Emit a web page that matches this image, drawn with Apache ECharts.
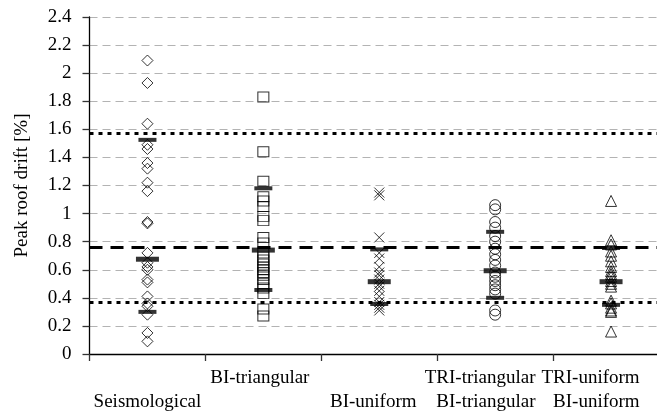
<!DOCTYPE html>
<html>
<head>
<meta charset="utf-8">
<script src="https://cdn.jsdelivr.net/npm/echarts@6/dist/echarts.min.js"></script>
<style>
html,body{margin:0;padding:0;background:#fff;}
#chart{width:657px;height:412px;}
</style>
</head>
<body>
<div id="chart"></div>
<script>
// ---- data ----
var categories = ['Seismological', 'BI-triangular', 'BI-uniform', 'TRI-triangular BI-triangular', 'TRI-uniform BI-uniform'];
var yTicks = [0, 0.2, 0.4, 0.6, 0.8, 1, 1.2, 1.4, 1.6, 1.8, 2, 2.2, 2.4];

var seismological = [2.09, 1.93, 1.64, 1.49, 1.46, 1.36, 1.32, 1.22, 1.16, 0.94, 0.93, 0.72, 0.65, 0.62, 0.60, 0.53, 0.51, 0.41, 0.36, 0.34, 0.28, 0.15, 0.09];
var biTriangular = [1.83, 1.44, 1.23, 1.12, 1.09, 1.05, 0.98, 0.95, 0.83, 0.79, 0.72, 0.69, 0.67, 0.64, 0.62, 0.60, 0.58, 0.56, 0.53, 0.50, 0.47, 0.43, 0.32, 0.27];
var biUniform = [1.15, 1.13, 0.83, 0.72, 0.68, 0.62, 0.58, 0.56, 0.53, 0.50, 0.48, 0.45, 0.41, 0.37, 0.35, 0.33, 0.31];
var triTriangular = [1.06, 1.03, 0.94, 0.90, 0.84, 0.80, 0.75, 0.71, 0.67, 0.63, 0.58, 0.55, 0.52, 0.49, 0.46, 0.43, 0.31, 0.28];
var triUniform = [1.09, 0.81, 0.78, 0.73, 0.70, 0.66, 0.62, 0.59, 0.57, 0.55, 0.52, 0.50, 0.48, 0.38, 0.36, 0.33, 0.31, 0.30, 0.16];

var groupP84 = [1.525, 1.18, 0.745, 0.87, 0.755];
var groupP50 = [0.675, 0.74, 0.515, 0.593, 0.515];
var groupP16 = [0.30, 0.456, 0.356, 0.40, 0.35];

var overallP84 = 1.57;
var overallMedian = 0.76;
var overallP16 = 0.37;

// ---- helpers ----
function pts(idx, arr) { return arr.map(function (v) { return [idx, v]; }); }
var outline = { color: 'rgba(0,0,0,0)', borderColor: '#000', borderWidth: 1 };
var FONT = 'Liberation Serif';

var labelLines = [
  '\n{c|Seismological}',
  '{c2|BI-triangular}\n',
  '\n{c3|BI-uniform}',
  '{r4|TRI-triangular}\n{r4|BI-triangular}',
  '{r5|TRI-uniform}\n{r5|BI-uniform}'
];

var chart = echarts.init(document.getElementById('chart'), null, { renderer: 'canvas' });
var option = {
  animation: false,
  backgroundColor: '#fff',
  grid: { left: 89.5, right: -12, top: 17, bottom: 58, containLabel: false, outerBoundsMode: 'none' },
  xAxis: {
    type: 'category',
    data: categories,
    boundaryGap: true,
    axisLine: { lineStyle: { color: '#000', width: 1.3 } },
    axisTick: { show: true, alignWithLabel: false, length: 7, lineStyle: { color: '#333', width: 1.3 } },
    splitLine: { show: false },
    axisLabel: {
      interval: 0,
      margin: 12,
      color: '#000',
      fontFamily: FONT,
      fontSize: 19,
      lineHeight: 24,
      hideOverlap: false,
      formatter: function (v, i) { return labelLines[i]; },
      rich: {
        c: { fontFamily: FONT, fontSize: 19, lineHeight: 24, color: '#000' },
        c2: { fontFamily: FONT, fontSize: 19, lineHeight: 24, color: '#000', padding: [0, 7, 0, 0] },
        c3: { fontFamily: FONT, fontSize: 19, lineHeight: 24, color: '#000', padding: [0, 12, 0, 0] },
        r4: { fontFamily: FONT, fontSize: 19, lineHeight: 24, color: '#000', align: 'right', padding: [0, 30, 0, 0] },
        r5: { fontFamily: FONT, fontSize: 19, lineHeight: 24, color: '#000', align: 'right', padding: [0, 41, 0, 0] }
      }
    }
  },
  yAxis: {
    type: 'value',
    min: yTicks[0],
    max: yTicks[yTicks.length - 1],
    interval: 0.2,
    name: 'Peak roof drift [%]',
    nameLocation: 'middle',
    nameGap: 58,
    nameTextStyle: { fontFamily: FONT, fontSize: 19, color: '#000' },
    axisLine: { show: true, lineStyle: { color: '#000', width: 1.3 } },
    axisTick: { show: true, length: 7, lineStyle: { color: '#333', width: 1.3 } },
    axisLabel: {
      margin: 18,
      color: '#000',
      fontFamily: FONT,
      fontSize: 19,
      formatter: function (v) { return String(+v.toFixed(1)); }
    },
    splitLine: { show: true, lineStyle: { color: '#b3b3b3', width: 1, type: [8, 5] } }
  },
  series: [
    { type: 'scatter', symbol: 'diamond', symbolSize: [11, 11], itemStyle: outline, data: pts(0, seismological), z: 3,
      markLine: {
        silent: true, symbol: 'none', label: { show: false },
        data: [
          { yAxis: overallMedian, lineStyle: { color: '#000', width: 3, type: [13, 8] } },
          { yAxis: overallP84, lineStyle: { color: '#000', width: 3, type: [4, 5] } },
          { yAxis: overallP16, lineStyle: { color: '#000', width: 3, type: [4, 5] } }
        ]
      }
    },
    { type: 'scatter', symbol: 'rect', symbolSize: [11, 10], itemStyle: outline, data: pts(1, biTriangular), z: 3 },
    { type: 'scatter', symbol: 'path://M0,0L10,10M10,0L0,10', symbolSize: [10, 10], itemStyle: { color: 'rgba(0,0,0,0)', borderColor: '#000', borderWidth: 1 }, data: pts(2, biUniform), z: 3 },
    { type: 'scatter', symbol: 'circle', symbolSize: 11, itemStyle: outline, data: pts(3, triTriangular), z: 3 },
    { type: 'scatter', symbol: 'triangle', symbolSize: [11, 11], itemStyle: outline, data: pts(4, triUniform), z: 3 },
    { type: 'scatter', symbol: 'rect', symbolSize: [18, 4], itemStyle: { color: '#000' }, data: groupP84.map(function (v, i) { return [i, v]; }), z: 4 },
    { type: 'scatter', symbol: 'rect', symbolSize: [23, 5], itemStyle: { color: '#000' }, data: groupP50.map(function (v, i) { return [i, v]; }), z: 4 },
    { type: 'scatter', symbol: 'rect', symbolSize: [18, 4], itemStyle: { color: '#000' }, data: groupP16.map(function (v, i) { return [i, v]; }), z: 4 }
  ]
};
chart.setOption(option);
</script>
</body>
</html>
